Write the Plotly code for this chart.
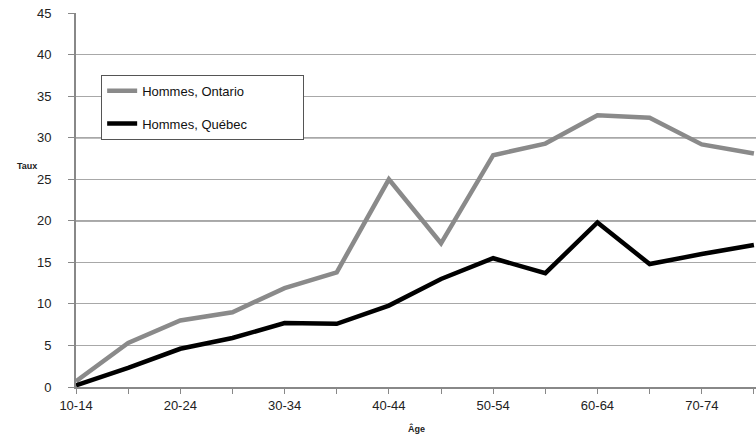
import plotly.graph_objects as go

categories = ["10-14", "15-19", "20-24", "25-29", "30-34", "35-39", "40-44",
              "45-49", "50-54", "55-59", "60-64", "65-69", "70-74", "75-79"]
ontario = [0.7, 5.3, 8.0, 9.0, 11.9, 13.8, 25.0, 17.3, 27.9, 29.3, 32.7, 32.4, 29.2, 28.1]
quebec = [0.2, 2.3, 4.6, 5.9, 7.7, 7.6, 9.8, 13.0, 15.5, 13.7, 19.8, 14.8, 16.0, 17.1]
tick_labels = [c if i % 2 == 0 else "" for i, c in enumerate(categories)]
y_ticks = [0, 5, 10, 15, 20, 25, 30, 35, 40, 45]
pad = "\u00a0" * 14

fig = go.Figure()
fig.add_trace(go.Scatter(x=categories, y=ontario, mode="lines", name="Hommes, Ontario" + pad,
                         line=dict(color="#8a8a8a", width=4.5), legendgroup="a"))
fig.add_trace(go.Scatter(x=categories, y=quebec, mode="lines", name="Hommes, Québec" + pad,
                         line=dict(color="#000000", width=4.5), legendgroup="b"))

for yv in (20, 30):
    fig.add_shape(type="line", xref="paper", yref="y", x0=0, x1=1, y0=yv, y1=yv,
                  line=dict(color="#111111", width=1), layer="below")

fig.update_layout(
    width=756, height=436,
    margin=dict(l=76, r=0, t=13, b=49, autoexpand=False),
    paper_bgcolor="white", plot_bgcolor="white",
    font=dict(family="Liberation Sans, Arial, sans-serif", color="#222222", size=13),
    showlegend=True,
    legend=dict(x=0.037, y=0.835, xanchor="left", yanchor="top",
                bgcolor="white", bordercolor="#555555", borderwidth=1,
                font=dict(size=13, color="#111111"), tracegroupgap=13,
                itemwidth=30),
    xaxis=dict(type="category", range=[0, 13.04], tickmode="array",
               tickvals=categories, ticktext=tick_labels,
               showgrid=False, showline=True, linecolor="#888888", linewidth=2,
               ticks="outside", ticklen=5, tickcolor="#888888", tickwidth=1,
               tickfont=dict(size=13, color="#222222"), zeroline=False),
    yaxis=dict(range=[0, 45.02], tickmode="array", tickvals=y_ticks,
               showgrid=True, gridcolor="#a8a8a8", gridwidth=1,
               showline=True, linecolor="#888888", linewidth=2,
               ticks="outside", ticklen=6, tickcolor="#888888", tickwidth=1,
               ticklabelstandoff=14, ticklabeloverflow="allow",
               tickfont=dict(size=13, color="#222222"), zeroline=False),
    annotations=[
        dict(text="<b>Taux</b>", xref="paper", yref="paper", x=-0.09, y=0.59,
             xanchor="left", yanchor="middle", showarrow=False,
             font=dict(size=9, color="#222222")),
        dict(text="<b>Âge</b>", xref="paper", yref="paper", x=0.5, y=-0.11,
             xanchor="center", yanchor="middle", showarrow=False,
             font=dict(size=9, color="#222222")),
    ],
)

fig.write_html("out.html", config={"displayModeBar": False},
               post_script="document.body.style.margin='0';document.body.style.overflow='hidden';")
